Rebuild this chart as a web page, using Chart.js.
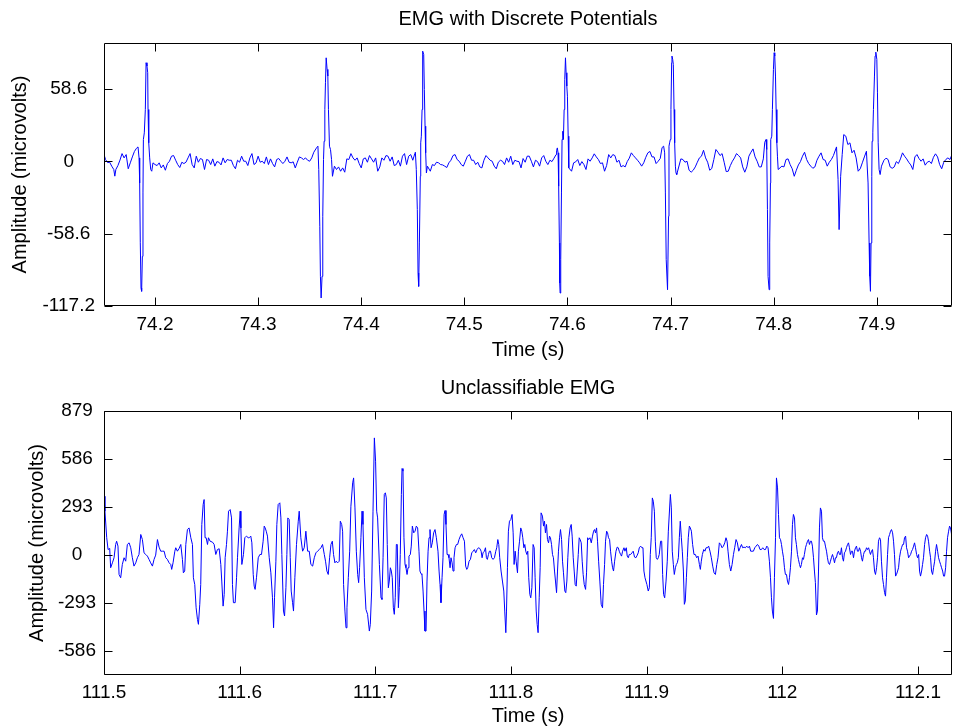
<!DOCTYPE html>
<html><head><meta charset="utf-8">
<script src="https://cdn.jsdelivr.net/npm/chart.js@4.4.1/dist/chart.umd.min.js"></script>
<style>
html,body{margin:0;padding:0;background:#fff;width:954px;height:728px;overflow:hidden}
canvas{position:absolute;left:0}
#c1{top:0}
#c2{top:365px}
</style></head><body>
<canvas id="c1" width="954" height="365"></canvas>
<canvas id="c2" width="954" height="363"></canvas>
<script>
// ---------- data ----------
const topTitle = 'EMG with Discrete Potentials';
const botTitle = 'Unclassifiable EMG';
const xAxisLabel = 'Time (s)';
const yAxisLabel = 'Amplitude (microvolts)';

const topXTicks = [74.2, 74.3, 74.4, 74.5, 74.6, 74.7, 74.8, 74.9];
const topXTickLabels = ['74.2', '74.3', '74.4', '74.5', '74.6', '74.7', '74.8', '74.9'];
const topYTicks = [-117.2, -58.6, 0, 58.6];
const topYTickLabels = ['-117.2', '-58.6', '0', '58.6'];
const topXRange = [74.1505, 74.973];
const topYRange = [-117.2, 95.9];

const botXTicks = [111.5, 111.6, 111.7, 111.8, 111.9, 112.0, 112.1];
const botXTickLabels = ['111.5', '111.6', '111.7', '111.8', '111.9', '112', '112.1'];
const botYTicks = [-586, -293, 0, 293, 586, 879];
const botYTickLabels = ['-586', '-293', '0', '293', '586', '879'];
const botXRange = [111.5, 112.1251];
const botYRange = [-731, 879];

// [time (s), amplitude (microvolts)]
const topSamples = [
[74.150,6.9],[74.152,1.5],[74.154,-1],[74.156,-0.7],[74.158,-3.9],[74.160,-6.6],[74.161,-12],[74.162,-6.6],[74.164,-3.4],[74.166,1],[74.168,6.3],[74.170,2.8],[74.172,5.5],[74.174,-6],[74.176,-1.2],[74.178,3.6],[74.180,8],[74.182,10.6],[74.1835,11.7],
[74.1845,2.8],[74.1851,-17.5],[74.1857,-66],[74.1864,-102.6],[74.1870,-105.3],[74.1877,-77],[74.1883,-25.6],[74.1887,17.7],[74.1896,23.1],[74.1906,42],[74.1913,79.9],[74.1922,77.2],[74.1929,71.8],[74.1932,42],[74.1939,15],[74.1948,2.8],[74.1958,-6.6],[74.1968,-8],
[74.198,-1.2],[74.200,-2.6],[74.202,-3.4],[74.204,-1.2],[74.206,-5.3],[74.208,-2.9],[74.210,-7.2],[74.212,-1.8],[74.214,0.1],[74.216,4.2],[74.218,4.7],[74.220,0.9],[74.222,-2.6],[74.224,-5],[74.226,-0.7],[74.228,-1.8],[74.230,-0.7],[74.232,2.8],[74.234,6.3],[74.236,-2.6],[74.238,-5.3],[74.240,4.2],[74.242,-0.7],[74.244,2.3],[74.246,1.5],[74.248,-6.6],[74.250,1.5],[74.252,0.9],[74.254,-2.6],[74.256,2],[74.258,-3.9],[74.260,-0.2],[74.262,-0.7],[74.264,-2.9],[74.266,2.8],[74.268,-1.2],[74.270,1.5],[74.272,0.9],[74.274,0.9],[74.276,-3.4],[74.278,-6],[74.280,0.9],[74.282,-0.7],[74.284,4.2],[74.286,0.1],[74.288,0.1],[74.290,-3.4],[74.292,2.8],[74.294,6.3],[74.296,-2.6],[74.298,-1.2],[74.300,4.2],[74.302,-0.7],[74.304,0.1],[74.306,-1.8],[74.308,3.6],[74.310,-2.6],[74.312,2],[74.314,-1.8],[74.316,-4.5],[74.318,1.5],[74.320,2.3],[74.322,0.1],[74.324,-1.8],[74.326,0.1],[74.328,3.6],[74.330,-0.7],[74.332,-1.2],[74.334,-0.4],[74.336,-5.3],[74.338,-0.7],[74.340,3.6],[74.342,2.8],[74.344,1.5],[74.346,2.8],[74.348,0.9],[74.350,0.1],[74.352,2.8],[74.354,7.4],[74.356,10.1],[74.3570,11.4],[74.3580,12.3],
[74.3588,-6.6],[74.3598,-52.6],[74.3604,-93.2],[74.3611,-110.7],[74.3620,-93.2],[74.3627,-44.5],[74.3634,1.5],[74.3640,16.3],[74.3647,42],[74.3653,63.7],[74.3660,83.9],[74.3669,74.5],[74.3676,69.1],[74.3682,42],[74.3692,12.3],[74.3702,9.6],[74.3712,1.5],[74.3721,-12.1],
[74.374,-3.9],[74.376,-6.6],[74.378,-4.5],[74.380,-8],[74.382,-5.3],[74.384,-8.8],[74.386,2],[74.388,1.5],[74.390,6.3],[74.392,2.8],[74.394,0.9],[74.396,2.8],[74.398,-1.8],[74.400,-5.3],[74.402,2],[74.404,2.8],[74.406,-0.7],[74.408,4.7],[74.410,2],[74.412,-0.7],[74.414,2.8],[74.416,-8],[74.418,-4.5],[74.420,2.8],[74.422,0.9],[74.424,4.7],[74.426,4.2],[74.428,0.1],[74.430,3.6],[74.432,-3.4],[74.434,-2.6],[74.436,0.9],[74.438,-3.9],[74.440,4.2],[74.442,6.3],[74.444,-2.6],[74.446,4.2],[74.448,5.5],[74.450,0.9],[74.452,6.3],
[74.4525,7.4],[74.4534,-6.6],[74.4544,-39.1],[74.4551,-90.5],[74.4557,-101.3],[74.4564,-66.1],[74.4573,-12.1],[74.4577,15],[74.4583,20.4],[74.4590,42],[74.4596,89.3],[74.4606,86.6],[74.4612,58.2],[74.4619,28.5],[74.4625,6.9],[74.4632,-9.4],[74.4642,-3.9],
[74.467,-8],[74.469,-2.6],[74.471,-3.4],[74.473,-0.7],[74.475,-1.2],[74.477,-2.6],[74.479,-2.9],[74.481,-3.9],[74.483,-5],[74.485,-1.2],[74.487,0.9],[74.489,4.7],[74.491,5.5],[74.493,1.5],[74.495,0.1],[74.497,-2.6],[74.499,-3.9],[74.501,0.1],[74.503,4.2],[74.505,5.5],[74.507,0.9],[74.509,0.9],[74.511,-2.6],[74.513,-0.7],[74.515,-4.5],[74.517,-5.3],[74.519,0.9],[74.521,4.7],[74.523,2.8],[74.525,0.9],[74.527,0.1],[74.529,-3.9],[74.531,-6],[74.533,-0.7],[74.535,0.9],[74.537,0.1],[74.539,-2.6],[74.541,2.8],[74.543,-0.7],[74.545,4.2],[74.547,-2.6],[74.549,0.9],[74.551,0.1],[74.553,-0.2],[74.555,-5.3],[74.557,2.3],[74.559,-0.7],[74.561,4.2],[74.563,4.2],[74.565,0.1],[74.567,-4.5],[74.569,0.9],[74.571,-0.2],[74.573,-3.9],[74.575,2.8],[74.577,4.7],[74.579,0.1],[74.581,-2.6],[74.583,0.9],[74.585,-0.2],[74.587,2.6],[74.589,5.5],[74.5895,8.8],
[74.5902,10.9],[74.5909,6.9],[74.5915,-20.2],[74.5922,-66.1],[74.5925,-98.6],[74.5929,-106.7],[74.5935,-79.7],[74.5942,-25.6],[74.5948,17.7],[74.5955,24.4],[74.5961,17.7],[74.5968,42],[74.5974,66.4],[74.5981,83.9],[74.5987,71.8],[74.5994,61],[74.6000,52.8],[74.6007,20.4],[74.6013,-5.3],
[74.604,-8],[74.606,-1.2],[74.608,-0.4],[74.610,1.5],[74.612,-3.4],[74.614,-0.2],[74.616,-2.6],[74.618,-6.6],[74.620,2],[74.622,0.1],[74.624,2.8],[74.626,6.1],[74.628,3.6],[74.630,1.5],[74.632,-1.8],[74.634,-1.2],[74.636,-8],[74.638,-3.4],[74.640,5.5],[74.642,2.8],[74.644,5.5],[74.646,4.7],[74.648,-0.7],[74.650,0.9],[74.652,-4.5],[74.654,-3.4],[74.656,-4.5],[74.658,-0.2],[74.660,2.6],[74.662,6.9],[74.664,4.7],[74.666,2.8],[74.668,0.9],[74.670,-1.2],[74.672,-3.9],[74.674,-1.2],[74.676,3.3],[74.678,6.9],[74.680,8],[74.682,3.6],[74.684,3.6],[74.686,-1.8],[74.688,0.1],[74.690,2.3],[74.6918,11.2],[74.6933,12.3],[74.6943,6.9],
[74.6950,-25.6],[74.6958,-79.7],[74.6971,-104],[74.6981,-44.5],[74.6985,12.3],[74.6991,15],[74.6998,17.7],[74.7004,42],[74.7011,79.9],[74.7014,85.3],[74.7021,82.6],[74.7027,78.5],[74.7034,42],[74.7040,15],[74.7047,-3.9],[74.7053,-9.4],[74.7060,-10.7],
[74.710,2],[74.712,1.5],[74.714,-0.7],[74.716,0.1],[74.718,-7.2],[74.720,-8.8],[74.722,-7.2],[74.724,-4.5],[74.726,-0.7],[74.728,2.8],[74.730,4.2],[74.732,9],[74.734,2.8],[74.736,-0.7],[74.738,-7.2],[74.740,-5.8],[74.742,1.5],[74.744,9.6],[74.746,7.4],[74.748,4.7],[74.750,6.3],[74.752,-0.7],[74.754,-8.3],[74.756,-8],[74.758,-3.4],[74.760,0.1],[74.762,2.8],[74.764,6.3],[74.766,4.7],[74.768,2.8],[74.770,-4.5],[74.772,-8.8],[74.774,-4.5],[74.776,4.2],[74.778,7.4],[74.780,10.1],[74.782,3.6],[74.784,0.1],[74.786,-4.5],[74.788,-4.5],[74.790,2],[74.7914,15.5],[74.7926,17.7],
[74.7933,9.6],[74.7940,-39.1],[74.7946,-93.2],[74.7956,-104],[74.7962,-66.1],[74.7969,-17.5],[74.7972,17.7],[74.7982,20.4],[74.7988,42],[74.7998,74.5],[74.8005,88],[74.8011,85.3],[74.8018,69.1],[74.8024,42],[74.8031,15],[74.8037,4.2],[74.8044,-6.6],
[74.808,-3.9],[74.810,-4.5],[74.812,1.5],[74.814,2],[74.816,-2.6],[74.818,-6],[74.820,-12.1],[74.822,-7.2],[74.824,-2.9],[74.826,-0.2],[74.828,4.2],[74.830,7.4],[74.832,1.5],[74.834,-1.8],[74.836,-3.9],[74.838,-5.6],[74.840,-4.5],[74.842,0.9],[74.844,4.2],[74.846,6.9],[74.848,1.5],[74.850,0.9],[74.852,-3.9],[74.854,-0.7],[74.856,1.5],[74.858,4.7],
[74.861,11.7],[74.8625,-14.8],[74.8635,-55.3],[74.865,-12.1],[74.8665,5.5],[74.868,21.7],[74.870,20.4],[74.872,13.6],[74.874,15],[74.876,6.9],[74.878,9],[74.880,2.8],[74.882,-8],[74.884,-6],[74.886,-1.2],[74.888,3.6],[74.890,8.2],
[74.8916,-17.5],[74.8926,-66.1],[74.8932,-93.2],[74.8939,-105.3],[74.8945,-66.1],[74.8952,-12.1],[74.8955,16.3],[74.8962,23.1],[74.8968,42],[74.8978,69.1],[74.8984,85.3],[74.8991,88.5],[74.9001,82.6],[74.9007,55.5],[74.9014,15],[74.9023,-6.6],[74.9033,-10.7],[74.9046,-3.9],
[74.907,0.9],[74.909,2.6],[74.911,1.5],[74.913,-4.5],[74.915,-5.6],[74.917,-4.5],[74.919,-0.2],[74.921,-1.8],[74.923,2],[74.925,6.9],[74.927,4.2],[74.929,2],[74.931,-0.7],[74.933,-2.9],[74.935,-6.6],[74.937,3.6],[74.939,5.5],[74.941,2.3],[74.943,0.1],[74.945,2],[74.947,-3.1],[74.949,-0.7],[74.951,0.1],[74.953,-1.8],[74.955,3.3],[74.957,6.1],[74.959,3.6],[74.961,-2.6],[74.963,-6],[74.965,-0.7],[74.967,1.5],[74.969,2.8],[74.971,1.5],[74.973,5.5]
];

const botSamples = [
[111.5000,359],[111.5007,268],[111.5020,106],[111.5030,34],[111.5042,41],[111.5049,-77],[111.5062,-47],[111.5074,-16],[111.5086,65],[111.5093,85],[111.5103,55],[111.5111,-118],[111.5123,-138],[111.5135,-57],[111.5148,-16],[111.5160,-37],[111.5172,65],[111.5185,75],[111.5197,45],[111.5209,-16],[111.5221,-67],[111.5234,-47],[111.5246,-16],[111.5258,4],[111.5271,126],[111.5283,95],[111.5295,14],[111.5308,4],[111.5320,-6],[111.5332,-26],[111.5344,-47],[111.5357,-67],[111.5369,-26],[111.5381,0],[111.5394,95],[111.5406,49],[111.5418,24],[111.5431,24],[111.5443,24],[111.5455,-16],[111.5467,-26],[111.5480,-47],[111.5492,-57],[111.5499,-87],[111.5509,-47],[111.5522,24],[111.5529,45],[111.5541,24],[111.5554,41],[111.5566,65],[111.5578,-26],[111.5585,-108],[111.5595,-97],[111.5603,65],[111.5615,156],[111.5627,166],[111.5640,106],[111.5652,65],[111.5659,-138],[111.5669,-179],[111.5679,-321],[111.5689,-392],[111.5696,-422],[111.5706,-300],[111.5713,-179],[111.5721,187],[111.5731,309],[111.5738,339],[111.5745,106],[111.5753,106],[111.5763,65],[111.5770,106],[111.5782,85],[111.5800,79],[111.5812,65],[111.5824,4],[111.5836,34],[111.5849,39],[111.5861,-57],[111.5868,-158],[111.5878,-311],[111.5886,-240],[111.5893,-16],[111.5903,65],[111.5910,146],[111.5918,268],[111.5930,278],[111.5940,227],[111.5947,-179],[111.5954,-290],[111.5967,-290],[111.5977,-138],[111.5984,-16],[111.5996,166],[111.6004,268],[111.6009,166],[111.6016,-57],[111.6028,4],[111.6038,106],[111.6050,116],[111.6063,106],[111.6070,106],[111.6082,116],[111.6090,75],[111.6100,-118],[111.6107,-189],[111.6114,-209],[111.6124,-138],[111.6137,-16],[111.6149,4],[111.6161,4],[111.6173,85],[111.6181,177],[111.6188,166],[111.6196,146],[111.6205,116],[111.6218,-16],[111.6230,-108],[111.6242,-260],[111.6250,-443],[111.6257,-260],[111.6267,-37],[111.6274,187],[111.6284,309],[111.6296,319],[111.6304,227],[111.6311,4],[111.6323,-341],[111.6331,-371],[111.6341,-199],[111.6348,4],[111.6355,227],[111.6365,217],[111.6373,-16],[111.6380,-219],[111.6390,-290],[111.6397,-341],[111.6407,-138],[111.6419,65],[111.6432,207],[111.6439,268],[111.6451,106],[111.6464,24],[111.6476,45],[111.6488,146],[111.6501,24],[111.6513,24],[111.6525,-57],[111.6538,-67],[111.6550,-16],[111.6562,14],[111.6574,24],[111.6587,34],[111.6599,45],[111.6611,65],[111.6624,4],[111.6633,-37],[111.6643,-97],[111.6653,-118],[111.6663,-16],[111.6673,65],[111.6683,85],[111.6692,4],[111.6702,-47],[111.6712,-37],[111.6722,-47],[111.6734,-37],[111.6742,207],[111.6752,187],[111.6759,146],[111.6766,-179],[111.6776,-341],[111.6784,-443],[111.6791,-321],[111.6801,-138],[111.6811,24],[111.6820,298],[111.6833,441],[111.6840,471],[111.6850,288],[111.6860,24],[111.6870,-118],[111.6877,-168],[111.6884,-77],[111.6894,106],[111.6902,268],[111.6909,187],[111.6919,-138],[111.6931,-331],[111.6943,-361],[111.6956,-463],[111.6963,-422],[111.6973,-219],[111.6983,268],[111.6993,715],[111.7002,573],[111.7010,268],[111.7017,227],[111.7030,-57],[111.7042,-260],[111.7049,-270],[111.7057,-16],[111.7066,370],[111.7074,380],
[111.7081,349],[111.7088,65],[111.7096,-199],[111.7103,-158],[111.7111,-77],[111.7118,-97],[111.7125,-138],[111.7133,-321],[111.7140,-361],[111.7147,-260],[111.7155,65],[111.7162,65],[111.7170,-321],[111.7177,-199],[111.7184,4],[111.7192,370],[111.7197,528],[111.7204,512],[111.7211,106],[111.7219,-57],[111.7226,-77],[111.7234,-118],[111.7241,-77],[111.7248,-6],[111.7258,4],[111.7265,55],[111.7273,177],[111.7283,136],[111.7293,146],[111.7302,177],[111.7312,166],[111.7322,24],[111.7329,-97],[111.7337,-114],[111.7344,-118],[111.7352,-219],[111.7359,-341],[111.7366,-463],[111.7374,-463],[111.7381,-158],[111.7389,24],[111.7396,106],[111.7403,156],[111.7411,45],[111.7420,75],[111.7430,136],[111.7440,156],[111.7450,106],[111.7462,24],[111.7470,-97],[111.7477,-179],[111.7484,-290],[111.7492,-138],[111.7499,-16],[111.7507,248],[111.7514,272],[111.7521,187],[111.7529,4],[111.7536,4],[111.7543,-16],[111.7551,-77],[111.7558,-16],[111.7566,-47],[111.7573,-97],[111.7580,-16],[111.7588,45],[111.7598,65],[111.7607,65],[111.7617,95],[111.7627,116],[111.7637,130],[111.7647,106],[111.7657,85],[111.7666,-67],[111.7674,-87],[111.7681,-77],[111.7691,-37],[111.7701,-26],[111.7711,14],[111.7721,24],[111.7730,34],[111.7740,14],[111.7750,34],[111.7760,45],[111.7770,41],[111.7780,24],[111.7787,-16],[111.7794,14],[111.7804,24],[111.7812,45],[111.7819,-16],[111.7826,-26],[111.7834,4],[111.7841,24],[111.7849,24],[111.7858,-16],[111.7868,-26],[111.7878,-16],[111.7888,24],[111.7895,45],[111.7903,95],[111.7910,65],[111.7917,-16],[111.7927,-97],[111.7937,-158],[111.7947,-219],[111.7954,-341],[111.7962,-473],[111.7967,-341],[111.7974,-77],[111.7981,146],[111.7989,207],[111.7999,217],[111.8008,248],[111.8016,136],[111.8023,-57],[111.8031,24],[111.8038,-37],[111.8048,-108],[111.8055,24],[111.8063,85],[111.8072,166],[111.8080,146],[111.8087,106],[111.8095,45],[111.8102,65],[111.8109,24],[111.8117,4],[111.8124,24],[111.8131,-138],[111.8139,-240],[111.8146,-260],[111.8154,-199],[111.8163,65],[111.8171,45],[111.8178,-138],[111.8186,-341],[111.8193,-422],[111.8200,-473],[111.8208,-260],[111.8215,-77],[111.8222,258],[111.8232,238],[111.8240,177],[111.8247,207],[111.8254,136],[111.8262,187],[111.8269,95],[111.8277,75],[111.8284,116],[111.8291,106],[111.8299,65],[111.8306,4],[111.8313,-16],[111.8321,-97],[111.8328,-158],[111.8336,-229],[111.8343,-97],[111.8350,24],[111.8358,106],[111.8365,156],[111.8373,95],[111.8380,-37],[111.8387,-108],[111.8397,-219],[111.8404,-229],[111.8412,-158],[111.8419,-16],[111.8427,106],[111.8436,166],[111.8444,187],[111.8451,116],[111.8459,-16],[111.8466,-97],[111.8473,-179],[111.8481,-189],[111.8488,-97],[111.8496,4],[111.8503,106],[111.8510,95],[111.8518,75],[111.8525,-37],[111.8532,-118],[111.8540,-179],[111.8550,-209],[111.8557,-108],[111.8565,106],[111.8572,95],[111.8582,106],[111.8592,75],[111.8601,116],[111.8609,146],[111.8616,156],[111.8623,136],[111.8631,166],[111.8638,85],[111.8646,-37],[111.8655,-158],[111.8665,-300],[111.8675,-321],[111.8682,-179],[111.8690,-57],[111.8697,85],[111.8705,146],[111.8712,136],[111.8719,106],[111.8727,95],[111.8734,24],[111.8742,-37],[111.8749,-77],[111.8756,-97],[111.8764,-37],[111.8774,24],[111.8783,49],[111.8791,45],[111.8798,24],[111.8808,4],[111.8815,-6],[111.8823,24],[111.8833,45],[111.8840,24],[111.8850,45],[111.8857,-6],[111.8865,-16],[111.8872,4],[111.8882,4],[111.8892,14],[111.8901,24],[111.8911,-12],[111.8921,-16],[111.8931,0],[111.8938,14],[111.8946,45],[111.8956,55],[111.8965,45],[111.8973,45],[111.8980,-97],[111.8988,-138],[111.8995,-138],[111.9002,-179],[111.9012,-219],[111.9020,-199],[111.9027,4],[111.9034,106],[111.9042,349],[111.9049,329],[111.9057,268],[111.9064,85],[111.9071,-16],[111.9079,-26],[111.9086,-16],[111.9093,4],[111.9103,85],[111.9111,85],[111.9118,-118],[111.9125,-240],[111.9133,-260],[111.9143,-158],[111.9152,-37],[111.9160,146],
[111.9175,370],[111.9182,288],[111.9189,24],[111.9197,-57],[111.9204,-118],[111.9212,-77],[111.9219,-57],[111.9226,-47],[111.9234,-16],[111.9241,106],[111.9248,207],[111.9256,106],[111.9263,24],[111.9271,-97],[111.9278,-300],[111.9285,-280],[111.9293,-138],[111.9300,-16],[111.9307,106],[111.9315,177],[111.9322,166],[111.9330,146],[111.9339,65],[111.9349,4],[111.9359,4],[111.9369,-16],[111.9379,-6],[111.9389,-57],[111.9396,-87],[111.9403,-37],[111.9411,4],[111.9421,34],[111.9430,24],[111.9438,45],[111.9448,45],[111.9457,55],[111.9467,24],[111.9477,-16],[111.9487,-67],[111.9497,-108],[111.9507,-118],[111.9517,-57],[111.9526,-16],[111.9536,75],[111.9546,65],[111.9556,45],[111.9566,55],[111.9576,75],[111.9585,106],[111.9593,85],[111.9600,24],[111.9610,-57],[111.9620,-97],[111.9630,-57],[111.9640,4],[111.9649,45],[111.9659,95],[111.9669,75],[111.9679,24],[111.9689,45],[111.9699,65],[111.9708,45],[111.9718,49],[111.9728,45],[111.9738,55],[111.9748,45],[111.9758,55],[111.9767,24],[111.9777,24],[111.9787,24],[111.9797,45],[111.9807,55],[111.9817,65],[111.9827,55],[111.9836,34],[111.9846,34],[111.9856,45],[111.9866,34],[111.9876,34],[111.9886,55],[111.9895,45],[111.9905,-37],[111.9913,-138],[111.9920,-260],[111.9927,-341],[111.9935,-386],[111.9942,-138],[111.9950,106],[111.9957,471],[111.9965,410],[111.9972,248],[111.9979,106],[111.9987,95],[111.9994,65],[112.0001,24],[112.0009,-16],[112.0016,-77],[112.0023,-118],[112.0031,-118],[112.0038,-158],[112.0046,-179],[112.0053,-138],[112.0060,-77],[112.0068,24],[112.0075,187],[112.0082,248],[112.0090,227],[112.0097,106],[112.0104,65],[112.0112,4],[112.0119,-26],[112.0127,-57],[112.0134,-77],[112.0141,-57],[112.0149,-16],[112.0156,-26],[112.0163,4],[112.0171,45],[112.0178,65],[112.0186,85],[112.0193,95],[112.0200,65],[112.0208,85],[112.0215,85],[112.0222,55],[112.0230,-16],[112.0237,-97],[112.0244,-168],[112.0252,-365],[112.0259,-341],[112.0267,-97],[112.0274,166],[112.0281,288],[112.0289,268],[112.0296,106],[112.0303,85],[112.0311,85],[112.0318,55],[112.0326,24],[112.0333,-16],[112.0340,-47],[112.0348,-57],[112.0355,-37],[112.0362,-16],[112.0370,4],[112.0377,-16],[112.0385,-47],[112.0392,-16],[112.0399,-16],[112.0407,14],[112.0414,24],[112.0422,4],[112.0429,4],[112.0436,45],[112.0444,-16],[112.0451,-37],[112.0458,14],[112.0466,24],[112.0473,45],[112.0481,65],[112.0488,75],[112.0495,45],[112.0503,4],[112.0510,24],[112.0517,24],[112.0525,-16],[112.0532,24],[112.0540,45],[112.0547,55],[112.0554,24],[112.0562,24],[112.0569,45],[112.0577,24],[112.0584,-16],[112.0591,-37],[112.0599,4],[112.0606,24],[112.0613,24],[112.0621,45],[112.0628,34],[112.0636,45],[112.0643,24],[112.0650,4],[112.0658,24],[112.0665,34],[112.0672,-16],[112.0680,-97],[112.0687,-118],[112.0695,-77],[112.0702,-16],[112.0709,85],[112.0717,106],[112.0724,95],[112.0731,-37],[112.0739,-138],[112.0746,-179],[112.0754,-229],[112.0761,-250],[112.0768,-138],[112.0776,4],[112.0783,106],[112.0791,126],[112.0798,146],[112.0805,156],[112.0813,136],[112.0820,85],[112.0827,4],[112.0835,-128],[112.0842,-118],[112.0850,-97],[112.0857,-77],[112.0864,-16],[112.0872,24],[112.0879,45],[112.0887,65],[112.0894,65],[112.0901,106],[112.0909,116],[112.0916,45],[112.0923,24],[112.0931,-16],[112.0938,-6],[112.0946,4],[112.0953,24],[112.0960,34],[112.0968,55],[112.0975,75],[112.0982,45],[112.0990,4],[112.0997,-16],[112.1005,4],[112.1012,-97],[112.1019,-128],[112.1027,-97],[112.1034,-57],[112.1041,-16],[112.1049,65],[112.1056,106],[112.1064,126],[112.1071,116],[112.1078,85],[112.1086,24],[112.1093,-16],[112.1100,-97],[112.1108,-118],[112.1115,-77],[112.1123,-37],[112.1130,24],[112.1137,65],[112.1145,24],[112.1152,-16],[112.1159,-37],[112.1167,-57],[112.1174,-77],[112.1182,-97],[112.1189,-128],[112.1196,-128],[112.1204,-77],[112.1211,24],[112.1218,106],[112.1226,146],[112.1233,177],[112.1240,166],[112.1248,126],[112.1255,106]
];

// ---------- drawing ----------
const FONT = { family: "'Liberation Sans', Arial, Helvetica, sans-serif", size: 19, lineHeight: 1.2, weight: 'normal' };
const TFONT = { family: "'Liberation Sans', Arial, Helvetica, sans-serif", size: 20, lineHeight: 1.2, weight: 'normal' };

const boxTicks = {
  id: 'boxTicks',
  afterDatasetsDraw(chart) {
    const { ctx, chartArea: a } = chart;
    const xs = chart.scales.x, ys = chart.scales.y;
    const L = 8;
    const l = Math.round(a.left) + 0.5, r = Math.round(a.right) - 0.5;
    const t = Math.round(a.top) + 0.5, b = Math.round(a.bottom) - 0.5;
    ctx.save();
    ctx.strokeStyle = '#000';
    ctx.lineWidth = 1;
    ctx.beginPath();
    ctx.rect(l, t, r - l, b - t);
    xs.ticks.forEach(tk => {
      const p = Math.round(xs.getPixelForValue(tk.value)) + 0.5;
      ctx.moveTo(p, b); ctx.lineTo(p, b - L);
      ctx.moveTo(p, t); ctx.lineTo(p, t + L);
    });
    ys.ticks.forEach(tk => {
      const p = Math.round(ys.getPixelForValue(tk.value)) + 0.5;
      ctx.moveTo(l, p); ctx.lineTo(l + L, p);
      ctx.moveTo(r, p); ctx.lineTo(r - L, p);
    });
    ctx.stroke();
    ctx.restore();
  }
};

function buildChart(id, o) {
  return new Chart(document.getElementById(id), {
    type: 'line',
    data: {
      datasets: [{
        data: o.samples.map(p => ({ x: p[0], y: p[1] })),
        borderColor: '#0000ff',
        borderWidth: 1,
        pointRadius: 0,
        tension: 0,
        fill: false
      }]
    },
    plugins: [boxTicks],
    options: {
      responsive: false,
      animation: false,
      devicePixelRatio: 1,
      events: [],
      layout: { padding: { left: 0, right: 2, top: 0, bottom: 0 } },
      plugins: {
        legend: { display: false },
        tooltip: { enabled: false },
        title: { display: false }
      },
      scales: {
        x: {
          type: 'linear', min: o.xr[0], max: o.xr[1],
          grid: { display: false, drawTicks: false },
          border: { display: false },
          afterBuildTicks: s => { s.ticks = o.xt.map(v => ({ value: v })); },
          afterFit: s => { s.height = o.xh; },
          ticks: { color: '#000', font: FONT, padding: o.xtp, maxRotation: 0, autoSkip: false,
                   callback: (v, i) => o.xl[i] },
          title: { display: true, text: xAxisLabel, color: '#000', font: TFONT, padding: { top: 0, bottom: o.xttp } }
        },
        // top-side axis used only to carry the plot title, centred over the axes box
        xTop: {
          type: 'linear', position: 'top', display: true, min: o.xr[0], max: o.xr[1],
          grid: { display: false, drawTicks: false },
          border: { display: false },
          ticks: { display: false },
          afterFit: s => { s.height = o.th; },
          title: { display: true, text: o.title, color: '#000', font: TFONT, padding: { top: o.ttp, bottom: 0 } }
        },
        y: {
          type: 'linear', min: o.yr[0], max: o.yr[1],
          grid: { display: false, drawTicks: false },
          border: { display: false },
          afterBuildTicks: s => { s.ticks = o.yt.map(v => ({ value: v })); },
          afterFit: s => { s.width = 104; },
          ticks: { color: '#000', font: FONT, padding: o.ytp, crossAlign: 'center', autoSkip: false,
                   callback: (v, i) => o.yl[i] },
          title: { display: true, text: yAxisLabel, color: '#000', font: TFONT, padding: { top: o.yttp, bottom: 0 } }
        }
      }
    }
  });
}

buildChart('c1', {
  samples: topSamples, title: topTitle,
  xr: topXRange, yr: topYRange, xt: topXTicks, xl: topXTickLabels, yt: topYTicks, yl: topYTickLabels,
  th: 43, ttp: 7, xh: 59, xtp: 7.5, xttp: 3, ytp: 9, yttp: 8.8
});
buildChart('c2', {
  samples: botSamples, title: botTitle,
  xr: botXRange, yr: botYRange, xt: botXTicks, xl: botXTickLabels, yt: botYTicks, yl: botYTickLabels,
  th: 46, ttp: 11, xh: 53, xtp: 6, xttp: 0, ytp: 8, yttp: 25.2
});
</script>
</body></html>
